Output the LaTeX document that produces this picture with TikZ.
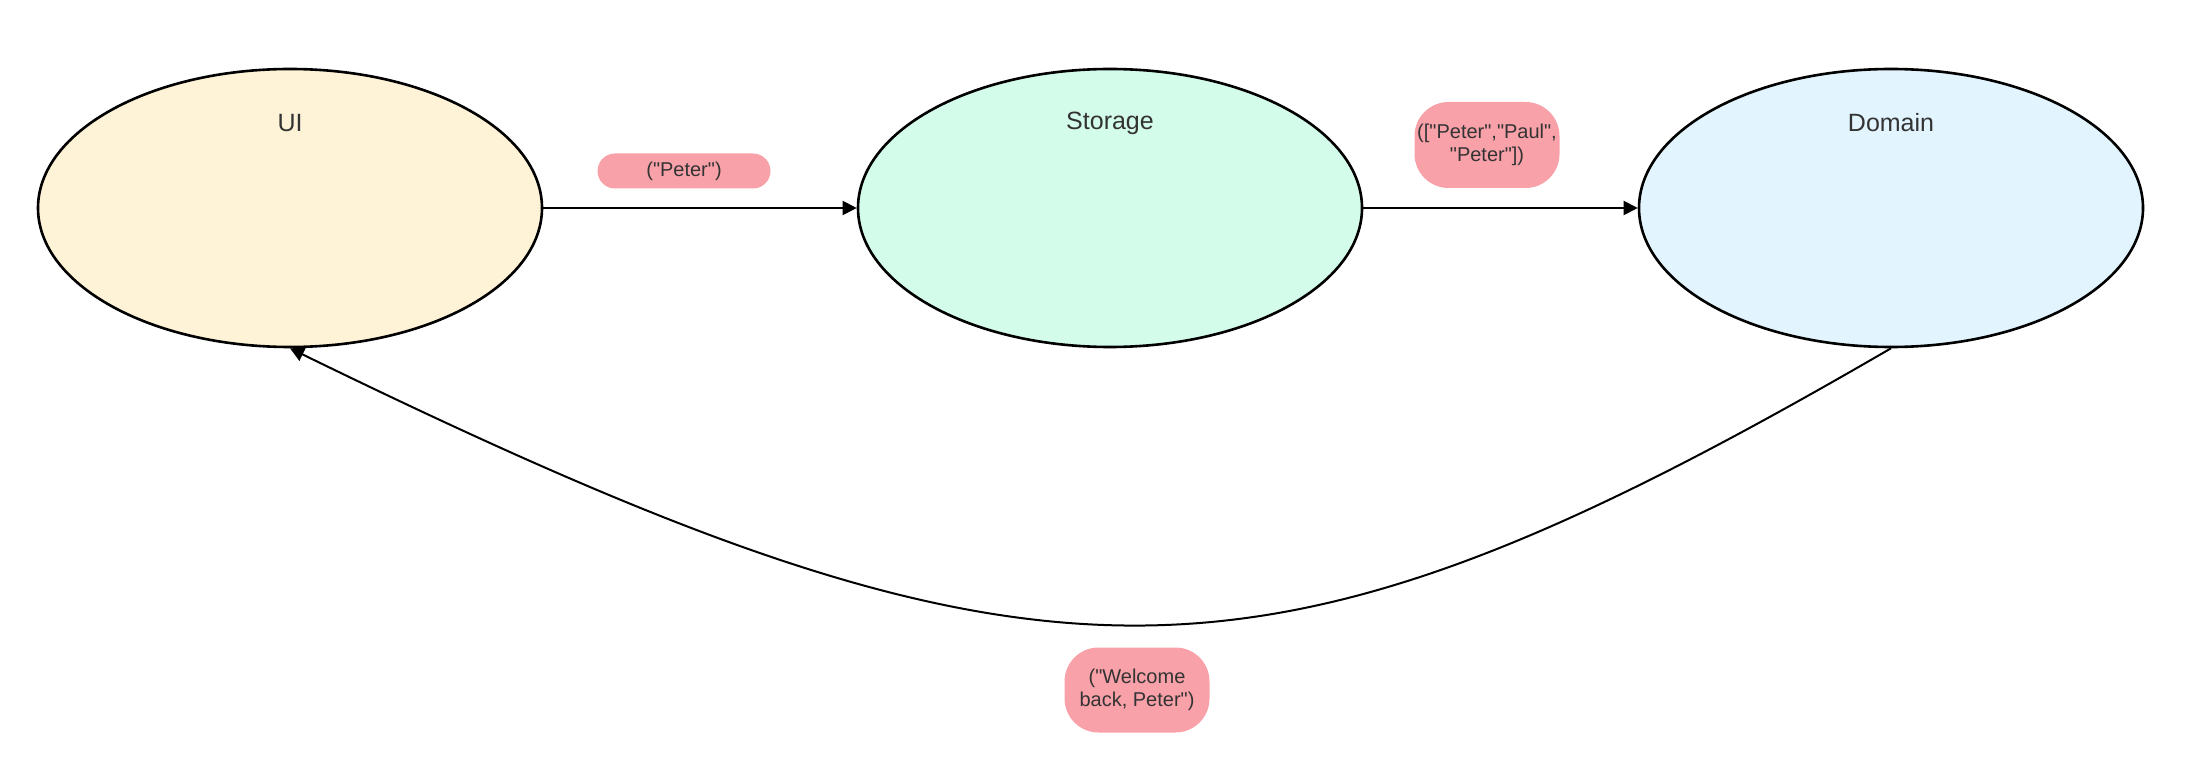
\documentclass[tikz,border=0pt]{standalone}
\usepackage{fontspec}
\newfontfamily\plainsans{Liberation Sans}
\usetikzlibrary{shapes.geometric,arrows.meta,positioning}
\definecolor{uifill}{HTML}{FEF3D6}
\definecolor{storefill}{HTML}{D4FCEB}
\definecolor{domfill}{HTML}{E2F5FE}
\definecolor{pill}{HTML}{F9A1A9}
\definecolor{ink}{HTML}{333333}

\begin{document}
\begin{tikzpicture}[x=0.5pt,y=-0.5pt]
\tikzstyle{layer}=[ellipse, draw=black, line width=1.3pt, minimum width=252pt, minimum height=139pt, inner sep=0pt]
\tikzstyle{title}=[text=ink, font=\plainsans\fontsize{12.5}{14}\selectfont]
\tikzstyle{msg}=[fill=pill, rounded corners=17pt, text=ink, align=center, font=\plainsans\fontsize{10}{11.5}\selectfont, inner sep=0pt]
\tikzstyle{flow}=[line width=1pt, -{Triangle[length=7pt,width=7pt]}]
\useasboundingbox (0,0) rectangle (2210,780);
% the three layers
\node[layer, fill=uifill] (ui) at (290,208) {};
\node[layer, fill=storefill] (store) at (1110,208) {};
\node[layer, fill=domfill] (dom) at (1891,208) {};
\node[title] (ui-t) at ([yshift=42.5pt]ui.center) {UI};
\node[title] (store-t) at ([yshift=42.5pt]store.center) {Storage};
\node[title] (dom-t) at ([yshift=42.5pt]dom.center) {Domain};
% messages
\node[msg, minimum width=86.5pt, minimum height=17.5pt, rounded corners=8.75pt] (m1) at (684,171) {("Peter")};
\node[msg, minimum width=72.5pt, minimum height=43pt] (m2) at (1487,145) {(["Peter","Paul",\\"Peter"])};
\node[msg, minimum width=72.5pt, minimum height=42.5pt] (m3) at (1137,690) {("Welcome\\back, Peter")};
% connectors
\draw[flow] (ui) -- (store);
\draw[flow] (store) -- (dom);
\draw[flow] (dom.south) .. controls (1256,717) and (1046,717) .. (ui.south);
\end{tikzpicture}
\end{document}
